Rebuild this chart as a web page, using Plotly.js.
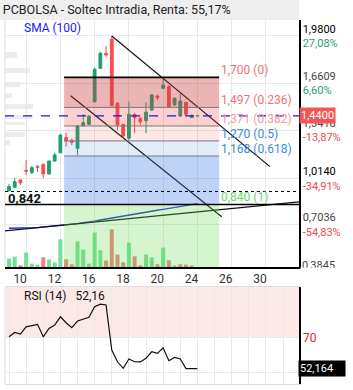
<!DOCTYPE html>
<html><head><meta charset="utf-8">
<script src="https://cdn.plot.ly/plotly-3.0.1.min.js"></script>
<style>html,body{margin:0;padding:0;background:#fff;}</style>
</head><body><div id="chart" style="width:353px;height:390px;"></div>
<script>
// ---------- data ----------
const titleText = 'PCBOLSA - Soltec Intradia, Renta: 55,17%';
const openP  = [0.933,0.956,1.006,1.071,1.055,1.098,1.112,1.046,1.134,1.190,1.292,1.271,1.220,1.373,1.382,1.535,1.761,1.863,1.959,1.524,1.382,1.288,1.450,1.423,1.407,1.479,1.574,1.626,1.637,1.513,1.439,1.531,1.428,1.440];
const highP  = [0.979,1.021,1.012,1.141,1.100,1.105,1.112,1.136,1.190,1.317,1.324,1.288,1.378,1.452,1.445,1.765,1.872,1.912,1.980,1.533,1.385,1.535,1.459,1.432,1.531,1.585,1.585,1.698,1.648,1.565,1.592,1.533,1.450,1.440];
const lowP   = [0.926,0.949,0.972,1.039,1.046,1.060,1.017,1.044,1.129,1.186,1.231,1.242,1.175,1.366,1.380,1.531,1.756,1.840,1.506,1.344,1.297,1.276,1.322,1.378,1.322,1.472,1.547,1.621,1.495,1.508,1.432,1.448,1.428,1.440];
const closeP = [0.960,0.994,0.987,1.065,1.089,1.092,1.046,1.134,1.175,1.310,1.271,1.261,1.371,1.393,1.437,1.754,1.863,1.851,1.508,1.378,1.305,1.450,1.427,1.400,1.464,1.581,1.562,1.648,1.502,1.558,1.540,1.450,1.440,1.440];
const volume = [8.4,10.4,1.7,14.4,3.4,2.4,9.7,7.7,4.4,27.7,7.7,2.7,25.7,17.4,3.4,34.4,16.7,6.4,37.7,12.4,4.7,24.4,10.7,1.7,12.4,9.7,2.7,19.4,6.7,1.7,2.7,2.4,1.5,0];
const sma100 = [0.679,0.679,0.680,0.680,0.681,0.684,0.688,0.691,0.694,0.698,0.701,0.707,0.711,0.717,0.721,0.728,0.735,0.742,0.749,0.757,0.762,0.769,0.776,0.780,0.787,0.794,0.801,0.807,0.814,0.821,0.828,0.837,0.843,0.846];
const rsi14 = [70.3,72.8,71.9,76.0,76.7,77.4,70.3,75.1,77.0,81.7,78.3,75.5,79.3,80.2,81.4,87.4,88.9,88.4,62.8,56.1,52.4,57.7,56.1,56.0,58.1,61.8,60.9,64.1,56.7,58.6,57.7,52.2,52.16,52.16];
const xTickPos = [3,9,15,21,27,33,39,45];
const xTickLabels = ['10','12','16','18','20','24','26','30'];
const priceTicks = [1.98,1.6609,1.3418,1.014,0.7036];
const priceTickText = ['1,9800','1,6609','1,3418','1,0140','0,7036'];
const pctTickText = ['27,08%','6,60%','-13,87%','-34,91%','-54,83%'];
const cutTickText = '0,3845';
const fibLevels = [1.700,1.497,1.371,1.270,1.168,0.840];
const fibLabels = ['1,700 (0)','1,497 (0.236)','1,371 (0.382)','1,270 (0.5)','1,168 (0.618)','0,840 (1)'];
const fibSpan = [9.65,36.8];
const lastPrice = 1.44, lastPriceText = '1,4400';
const refPrice = 0.928, refText = '0,842';
const supportLevel = 0.840;
const chanUpperX = [18,45.7], chanUpperY = [1.98,1.096];
const chanLowerX = [10.8,37.25], chanLowerY = [1.576,0.757];
const longLineX = [-0.7,50.79], longLineY = [0.661,0.857];
const smaLabel = 'SMA (100)';
const rsiTitle = 'RSI (14)', rsiLastText = '52,16', rsiBoxText = '52,164', rsiLast = 52.164;
const rsiLevel = 70;

// ---------- styles ----------
const GREEN = '#1f9e6e', RED = '#f64e4e';
const VGREEN = 'rgb(118,224,150)', VRED = 'rgb(242,128,128)';
const FONT = 'Roboto, Arial, sans-serif';
const yMin = 0.417, yMax = 2.088;
const xRange = [-0.7, 50.79];
const zoneFills = ['rgba(205,60,60,0.38)','rgba(240,60,60,0.24)','rgba(240,60,60,0.12)','rgba(60,120,220,0.14)','rgba(60,120,230,0.33)','rgba(100,220,80,0.28)'];
const fibLabelColors = ['#f07272','#f07272','#f29a9a','#3a8de0','#3a8de0','#66d966'];
// faint blurred watermark blocks at the left edge (decoration, pixel boxes: x0,x1,y0,y1)
const decoBlocks = [[5,17,52,58],[5,30,68,73],[5,20,82,87],[5,12,93,98],[5,33,104,109],[5,33,115,119],[5,25,122,125],[5,25,132,137],[5,10,140,145]];

const idx = openP.map((_, i) => i);
const volColors = closeP.map((c, i) => (i === 0 || c >= closeP[i-1]) ? VGREEN : VRED);

const traces = [
  {type:'bar', x: idx, y: volume, xaxis:'x', yaxis:'y2', width:0.7,
   marker:{color: volColors, line:{width:0}}, hoverinfo:'skip'},
  {type:'candlestick', x: idx, open: openP, high: highP, low: lowP, close: closeP,
   xaxis:'x', yaxis:'y', whiskerwidth:0,
   increasing:{line:{color:GREEN,width:1}, fillcolor:GREEN},
   decreasing:{line:{color:RED,width:1}, fillcolor:RED}, hoverinfo:'skip'},
  {type:'scatter', mode:'lines', x: idx, y: sma100, xaxis:'x', yaxis:'y',
   line:{color:'#2030d0', width:1.3}, hoverinfo:'skip'},
  {type:'scatter', mode:'lines', x: chanUpperX, y: chanUpperY, xaxis:'x', yaxis:'y',
   line:{color:'#111', width:1.2}, hoverinfo:'skip'},
  {type:'scatter', mode:'lines', x: chanLowerX, y: chanLowerY, xaxis:'x', yaxis:'y',
   line:{color:'#111', width:1.2}, hoverinfo:'skip'},
  {type:'scatter', mode:'lines', x: longLineX, y: longLineY, xaxis:'x', yaxis:'y',
   line:{color:'#111', width:1.2}, hoverinfo:'skip'},
  {type:'scatter', mode:'lines', x: idx, y: rsi14, xaxis:'x2', yaxis:'y3',
   line:{color:'#111', width:1.2}, hoverinfo:'skip'}
];

const pxX = v => (v - 5) / 294;
const pxY = v => (385 - v) / 365;

const shapes = [];
// title band
shapes.push({type:'rect', xref:'paper', yref:'paper', x0:-0.02, x1:1, y0:1, y1:1.06, fillcolor:'#eeeeee', line:{width:0}, layer:'below'});
decoBlocks.forEach(b => shapes.push({type:'rect', xref:'paper', yref:'paper', x0:pxX(b[0]), x1:pxX(b[1]), y0:pxY(b[3]), y1:pxY(b[2]), fillcolor:'#ececec', line:{width:0}, layer:'below'}));
// left borders
shapes.push({type:'line', xref:'paper', yref:'paper', x0:0, x1:0, y0:0.3233, y1:1, line:{color:'#dddddd', width:1}, layer:'below'});
shapes.push({type:'line', xref:'paper', yref:'paper', x0:0, x1:0, y0:0.002, y1:0.269, line:{color:'#dddddd', width:1}, layer:'below'});
// RSI overbought zone
shapes.push({type:'rect', xref:'paper', yref:'y3', x0:0, x1:1, y0:rsiLevel, y1:98.75, fillcolor:'#fde8e8', line:{width:0}, layer:'below'});
// fib zones
for (let i = 0; i < fibLevels.length; i++) {
  const top = fibLevels[i];
  const bot = i + 1 < fibLevels.length ? fibLevels[i+1] : yMin;
  shapes.push({type:'rect', xref:'x', yref:'y', x0:fibSpan[0], x1:fibSpan[1], y0:bot, y1:top, fillcolor:zoneFills[i], line:{width:0}, layer:'above'});
}
fibLevels.forEach((lv, i) => {
  if (i === 0) shapes.push({type:'line', xref:'x', yref:'y', x0:fibSpan[0], x1:fibSpan[1], y0:lv, y1:lv, line:{color:'#000', width:1.6}});
  else if (i < fibLevels.length - 1) shapes.push({type:'line', xref:'x', yref:'y', x0:fibSpan[0], x1:fibSpan[1], y0:lv, y1:lv, line:{color:'#777', width:1}});
});
shapes.push({type:'line', xref:'paper', yref:'y', x0:0, x1:1, y0:supportLevel, y1:supportLevel, line:{color:'#000', width:1.4}});
shapes.push({type:'line', xref:'paper', yref:'y', x0:0, x1:1, y0:refPrice, y1:refPrice, line:{color:'#000', width:1, dash:'dot'}});
shapes.push({type:'line', xref:'paper', yref:'y', x0:0, x1:1, y0:lastPrice, y1:lastPrice, line:{color:'#1a1ad0', width:1.2, dash:'dash'}});

const annotations = [];
annotations.push({xref:'paper', yref:'paper', x:pxX(22), y:pxY(28), xanchor:'left', yanchor:'middle', showarrow:false,
  text:smaLabel, font:{family:FONT, size:12, color:'#1c1cf0'}});
annotations.push({xref:'paper', yref:'paper', x:0.005, y:pxY(198), xanchor:'left', yanchor:'middle', showarrow:false,
  text:'<b>'+refText+'</b>', font:{family:FONT, size:13, color:'#111'}});
fibLevels.forEach((lv, i) => {
  annotations.push({xref:'x', yref:'y', x:fibSpan[1], y:lv, xanchor:'left', yanchor:'middle', yshift:7, showarrow:false,
    text:fibLabels[i], font:{family:FONT, size:12, color:fibLabelColors[i]}});
});
annotations.push({xref:'paper', yref:'paper', x:1, y:pxY(265), xanchor:'left', yanchor:'middle', xshift:1, showarrow:false,
  text:cutTickText, font:{family:FONT, size:11, color:'#444'}});
// white mask that cuts off the lower part of the last (out of range) tick label
annotations.push({xref:'paper', yref:'paper', x:1, y:pxY(266.8), xanchor:'left', yanchor:'top', xshift:1, showarrow:false,
  text:cutTickText, bgcolor:'#ffffff', borderpad:3, font:{family:FONT, size:11, color:'#ffffff'}});
annotations.push({xref:'paper', yref:'y', x:1, y:lastPrice, xanchor:'left', yanchor:'middle', showarrow:false, xshift:0,
  text:lastPriceText, bgcolor:'#f55454', borderpad:1, font:{family:FONT, size:11, color:'#fff'}});
annotations.push({xref:'paper', yref:'paper', x:pxX(22), y:pxY(295.7), xanchor:'left', yanchor:'middle', showarrow:false,
  text:rsiTitle+'\u00a0\u00a0\u00a0'+rsiLastText, font:{family:FONT, size:12, color:'#111'}});
annotations.push({xref:'paper', yref:'y3', x:1, y:rsiLast, xanchor:'left', yanchor:'middle', showarrow:false, xshift:-1,
  text:rsiBoxText, bgcolor:'#000', width:44, align:'left', borderpad:1, font:{family:FONT, size:11, color:'#fff'}});

const yTickText = priceTickText.map((p, i) => {
  const strong = (i === 0 || i === 3);
  const pc = pctTickText[i].startsWith('-') ? '#f04848' : '#1fa073';
  return '<span style="color:' + (strong ? '#000' : '#444') + '">' + p + '</span><br><span style="color:' + pc + '">' + pctTickText[i] + '</span>';
});

const layout = {
  width:353, height:390,
  margin:{l:5, r:54, t:20, b:5, pad:0},
  paper_bgcolor:'#fff', plot_bgcolor:'#fff',
  showlegend:false, hovermode:false, dragmode:false,
  font:{family:FONT, size:11, color:'#333'},
  title:{text:titleText, x:0.008, xanchor:'left', xref:'container', y:1-10/390, yref:'container', yanchor:'middle',
    font:{family:FONT, size:12.5, color:'#222'}},
  xaxis:{domain:[0,1], anchor:'y', range:xRange, tickvals:xTickPos, ticktext:xTickLabels, ticklabelshift:-6,
    showgrid:true, gridcolor:'#e8e8e8', gridwidth:1, zeroline:false, showline:true, linecolor:'#000', linewidth:2,
    ticks:'', tickfont:{family:FONT, size:12, color:'#333'}, rangeslider:{visible:false}, fixedrange:true},
  yaxis:{domain:[0.3233,1], anchor:'x', side:'right', range:[yMin,yMax], tickvals:priceTicks, ticktext:yTickText,
    showgrid:true, gridcolor:'#e8e8e8', zeroline:false, showline:true, linecolor:'#000', linewidth:1.5,
    ticks:'', tickfont:{family:FONT, size:11, color:'#444'}, fixedrange:true},
  yaxis2:{domain:[0.3233,1], overlaying:'y', anchor:'x', range:[0,247], visible:false, fixedrange:true},
  xaxis2:{domain:[0,1], anchor:'y3', matches:'x', range:xRange, dtick:3, tick0:0, tickmode:'linear', showticklabels:false,
    showgrid:true, gridcolor:'#e8e8e8', zeroline:false, showline:true, mirror:true, linecolor:'#dddddd', linewidth:1, ticks:'', fixedrange:true},
  yaxis3:{domain:[0.002,0.269], anchor:'x2', side:'right', range:[43.3,98.75], tickvals:[50,rsiLevel], ticktext:['', String(rsiLevel)],
    showgrid:true, gridcolor:'#e8e8e8', zeroline:false, showline:true, linecolor:'#000', linewidth:1.5,
    ticks:'', tickfont:{family:FONT, size:12, color:'#f01818'}, fixedrange:true},
  shapes: shapes,
  annotations: annotations
};

Plotly.newPlot('chart', traces, layout, {displayModeBar:false, staticPlot:true});
</script></body></html>
